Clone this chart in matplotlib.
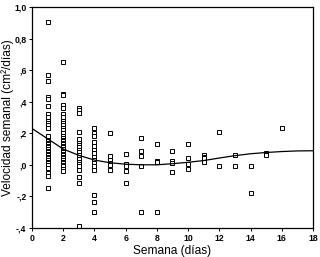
import matplotlib.pyplot as plt
import numpy as np

plt.rcParams['font.family'] = ['Liberation Sans', 'DejaVu Sans']

# puntos por semana (velocidad semanal, cm2/dias)
wk1 = [0.905, 0.57, 0.53, 0.43, 0.42, 0.37, 0.32, 0.30, 0.28, 0.265, 0.25,
       0.235, 0.185, 0.16, 0.15, 0.14, 0.13, 0.12, 0.11, 0.10, 0.09, 0.08,
       0.07, 0.06, 0.05, 0.04, 0.03, 0.02, 0.01, 0.0, -0.02, -0.05, -0.07,
       -0.145]
wk2 = [0.65, 0.45, 0.44, 0.38, 0.36, 0.32, 0.30, 0.28, 0.265, 0.25, 0.235,
       0.22, 0.20, 0.185, 0.17, 0.16, 0.15, 0.14, 0.13, 0.12, 0.11, 0.10,
       0.09, 0.08, 0.07, 0.06, 0.05, 0.04, 0.03, 0.02, 0.01, 0.0, -0.01,
       -0.025, -0.04]
wk3 = [0.36, 0.345, 0.33, 0.21, 0.165, 0.14, 0.125, 0.11, 0.095, 0.08,
       0.065, 0.05, 0.035, 0.02, 0.005, -0.01, -0.03, -0.075, -0.115, -0.39]
wk4 = [0.23, 0.20, 0.18, 0.145, 0.12, 0.095, 0.075, 0.05, 0.03, 0.01,
       -0.01, -0.035, -0.19, -0.235, -0.30]
wk5 = [0.20, 0.057, 0.03, 0.013, 0.0, -0.03]
wk6 = [0.07, 0.006, -0.01, -0.04, -0.115]
wk7 = [0.17, 0.09, 0.057, -0.006, -0.30]
wk8 = [0.13, 0.025, 0.015, -0.30]
wk9 = [0.09, 0.025, 0.01, -0.045]
wk10 = [0.13, 0.04, 0.006, -0.025]
wk11 = [0.063, 0.05, 0.042, 0.02]
wk12 = [0.21, -0.006]
wk13 = [0.063, -0.006]
wk14 = [-0.006, -0.18]
wk15 = [0.076, 0.063]
wk16 = [0.23]
weeks = [wk1, wk2, wk3, wk4, wk5, wk6, wk7, wk8, wk9, wk10, wk11, wk12,
         wk13, wk14, wk15, wk16]

curve_x = list(range(0, 19))
curve_y = [0.23, 0.165, 0.10, 0.06, 0.03, 0.013, 0.004, 0.0, 0.0, 0.007,
           0.016, 0.027, 0.043, 0.058, 0.07, 0.078, 0.084, 0.088, 0.089]

yticks = [-0.4, -0.2, 0.0, 0.2, 0.4, 0.6, 0.8, 1.0]
ytick_labels = ['-,4', '-,2', ',0', ',2', ',4', ',6', '0,8', '1,0']
xticks = [0, 2, 4, 6, 8, 10, 12, 14, 16, 18]


def main():
    fig = plt.figure(figsize=(3.2, 2.57), dpi=100)
    ax = fig.add_axes([0.1, 0.113, 0.878, 0.86])

    for i, vals in enumerate(weeks):
        ax.plot([i + 1] * len(vals), vals, 's', ms=2.2, mfc='white',
                mec='black', mew=0.7, ls='none')
    ax.plot(curve_x, curve_y, color='black', lw=0.9)

    ax.set_xlim(0, 18)
    ax.set_ylim(-0.4, 1.0)
    ax.set_xticks(xticks)
    ax.set_yticks(yticks)
    ax.set_yticklabels(ytick_labels)
    ax.tick_params(labelsize=6.2, length=2, width=0.7, pad=2)
    for lab in ax.get_xticklabels() + ax.get_yticklabels():
        lab.set_fontweight('bold')
    for s in ax.spines.values():
        s.set_linewidth(0.9)

    ax.set_xlabel('Semana (días)', fontsize=8.6, labelpad=2)
    ax.set_ylabel('Velocidad semanal (cm²/días)', fontsize=8.6)
    ax.yaxis.set_label_coords(-0.063, 0.5)

    fig.savefig('out.png', dpi=100)


if __name__ == "__main__":
    main()
